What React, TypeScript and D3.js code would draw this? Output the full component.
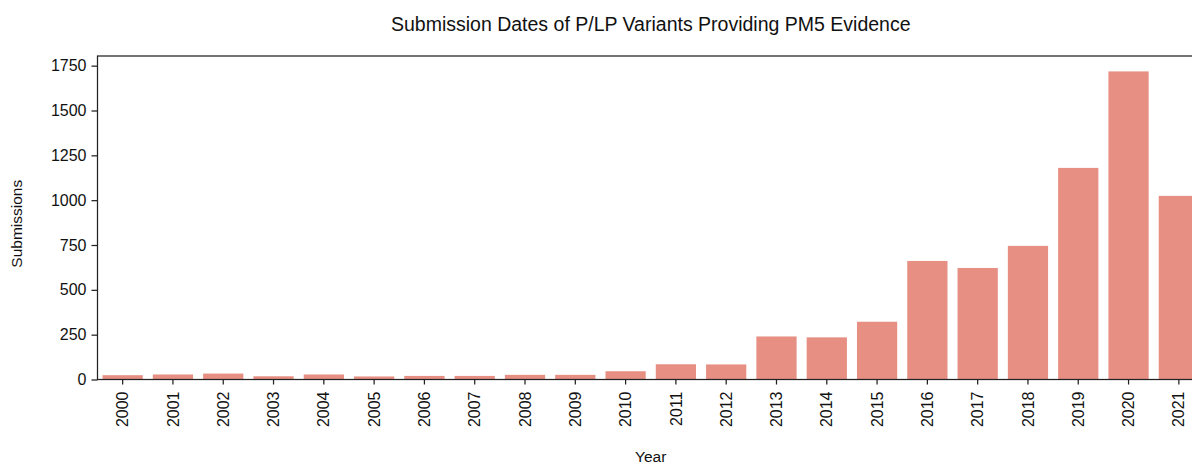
import * as React from 'react'
import {select, scaleBand, scaleLinear, axisBottom, axisLeft} from 'd3'

const {useRef, useEffect} = React

const years = ['2000', '2001', '2002', '2003', '2004', '2005', '2006', '2007', '2008', '2009', '2010',
  '2011', '2012', '2013', '2014', '2015', '2016', '2017', '2018', '2019', '2020', '2021']
const submissions = [24, 28, 33, 18, 28, 17, 20, 20, 26, 26, 46, 85, 84, 240, 235, 322, 661, 622, 745, 1180, 1718, 1024]
const yTicks = [0, 250, 500, 750, 1000, 1250, 1500, 1750]

const W = 1192
const H = 466
const FONT = '"Liberation Sans", Arial, sans-serif'

export default function App() {
  const ref = useRef<SVGSVGElement>(null)

  useEffect(() => {
    const svg = select(ref.current)
    svg.selectAll('*').remove()

    // the axes run past the right edge of the picture, as in the reference
    const left = 97.5, right = 1204, top = 56, bottom = 379.5
    const ymax = Math.max(...submissions) * 1.05

    const x = scaleBand().domain(years).range([left, right]).paddingInner(0.2).paddingOuter(0.1)
    const y = scaleLinear().domain([0, ymax]).range([bottom, top])

    svg.append('g')
      .selectAll('rect')
      .data(submissions)
      .join('rect')
      .attr('x', (d, i) => x(years[i]))
      .attr('width', x.bandwidth())
      .attr('y', d => y(d))
      .attr('height', d => bottom - y(d))
      .attr('fill', '#e68f82')

    // spines
    svg.append('rect')
      .attr('x', left).attr('y', top)
      .attr('width', right - left).attr('height', bottom - top)
      .attr('fill', 'none').attr('stroke', '#222').attr('stroke-width', 1.25)

    const gx = svg.append('g')
      .attr('transform', `translate(0, ${bottom})`)
      .call(axisBottom(x).tickSize(5).tickSizeOuter(0).tickPadding(4))
    gx.select('.domain').remove()
    gx.selectAll('line').attr('stroke', '#222').attr('stroke-width', 1.25)
    gx.selectAll('text')
      .attr('transform', 'rotate(-90)')
      .attr('text-anchor', 'end')
      .attr('x', -12)
      .attr('y', 0)
      .attr('dy', '0.35em')
      .attr('font-size', 16)
      .attr('font-family', FONT)
      .attr('fill', '#111')

    const gy = svg.append('g')
      .attr('transform', `translate(${left}, 0)`)
      .call(axisLeft(y).tickValues(yTicks).tickFormat(d => String(d)).tickSize(6).tickSizeOuter(0).tickPadding(5))
    gy.select('.domain').remove()
    gy.selectAll('line').attr('stroke', '#222').attr('stroke-width', 1.25)
    gy.selectAll('text')
      .attr('font-size', 16)
      .attr('font-family', FONT)
      .attr('fill', '#111')

    svg.append('text')
      .attr('x', (left + right) / 2).attr('y', 31)
      .attr('text-anchor', 'middle')
      .attr('font-size', 19.5)
      .attr('font-family', FONT)
      .attr('fill', '#111')
      .text('Submission Dates of P/LP Variants Providing PM5 Evidence')

    svg.append('text')
      .attr('x', (left + right) / 2).attr('y', 462)
      .attr('text-anchor', 'middle')
      .attr('font-size', 15.5)
      .attr('font-family', FONT)
      .attr('fill', '#111')
      .text('Year')

    svg.append('text')
      .attr('transform', `translate(22, ${(top + bottom) / 2 + 6}) rotate(-90)`)
      .attr('text-anchor', 'middle')
      .attr('font-size', 15.5)
      .attr('font-family', FONT)
      .attr('fill', '#111')
      .text('Submissions')
  }, [])

  return (
    <svg ref={ref} width={W} height={H}
      style={{position: 'absolute', left: 0, top: 0, background: '#fff'}} />
  )
}
